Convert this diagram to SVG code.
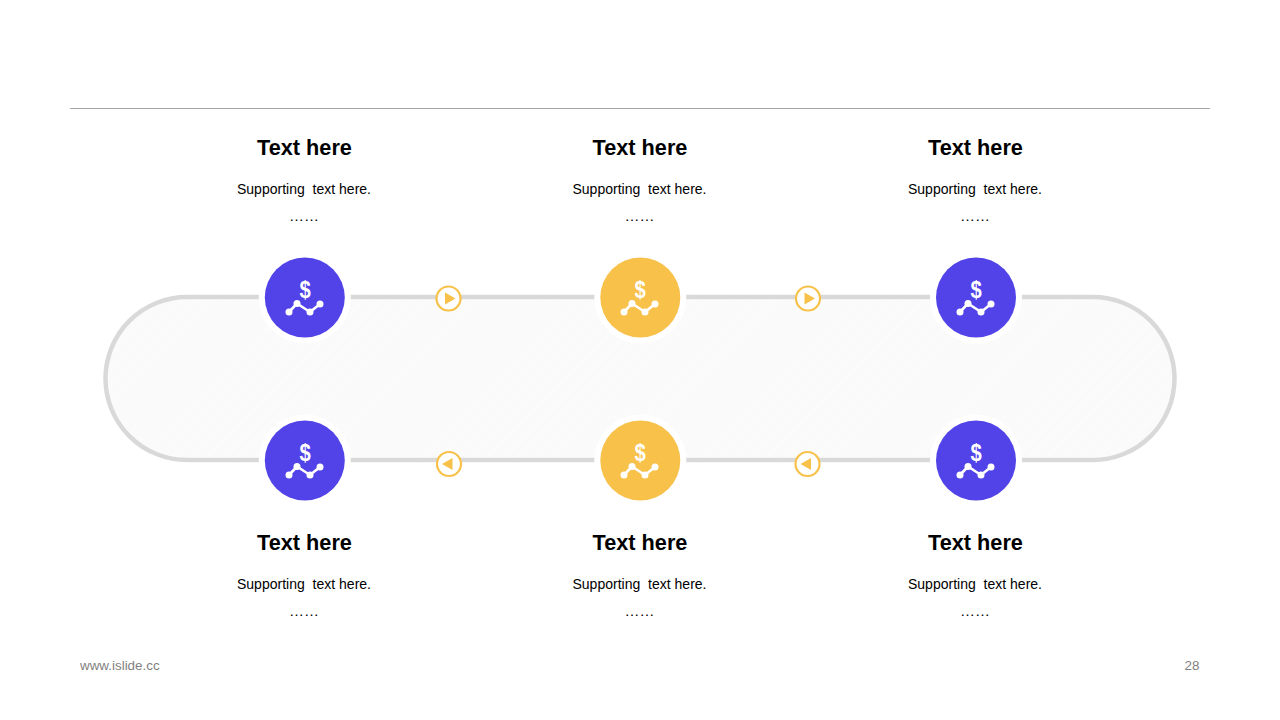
<svg xmlns="http://www.w3.org/2000/svg" xmlns:xlink="http://www.w3.org/1999/xlink" width="1280" height="720" viewBox="0 0 1280 720">
<style>
text{font-family:"Liberation Sans",Arial,sans-serif;text-anchor:middle}
.t{font-size:21.700px;font-weight:700;fill:#000}
.s{font-size:14px;fill:#000}
.d{font-size:15px;fill:#000}
.f{font-size:13.400px;fill:#7f7f7f}
.ring{fill:#fff}
.blue{fill:#5143e8}
.gold{fill:#f7c14a}
.ic{fill:#fff}
.icl{fill:none;stroke:#fff;stroke-width:2.600;stroke-linejoin:round}
.dl{font-size:23px;font-weight:700;fill:#fff}
.arc{fill:#fff;stroke:#f7c14a;stroke-width:2.200}
.tri{fill:#f7c14a}
</style>
<defs>
<pattern id="hatch" width="2" height="2" patternUnits="userSpaceOnUse" patternTransform="rotate(45)">
<rect width="2" height="2" fill="#fefefe"/>
<rect width="1" height="2" fill="#f7f7f7"/>
</pattern>
<g id="icon">
<text class="dl" x="0" y="-0.500" transform="scale(0.88,1)">$</text>
<polyline class="icl" points="-16,14 -8,5.500 5,14 15,6"/>
<circle class="ic" cx="-16" cy="14" r="3.500"/>
<circle class="ic" cx="-8" cy="5.500" r="3.500"/>
<circle class="ic" cx="5" cy="14" r="3.500"/>
<circle class="ic" cx="15" cy="6" r="3.500"/>
</g>
</defs>
<rect width="1280" height="720" fill="#fff"/>
<line x1="70" y1="108.500" x2="1210" y2="108.500" stroke="#a6a6a6" stroke-width="1"/>
<g id="connectors">
<rect x="105.500" y="297" width="1069" height="163" rx="81.500" ry="81.500" fill="url(#hatch)" stroke="#d9d9d9" stroke-width="4.500"/>
</g>
<g id="node-1"><circle class="ring" cx="304.800" cy="297.500" r="46"/><circle class="blue" cx="304.800" cy="297.500" r="40"/><use xlink:href="#icon" href="#icon" x="305" y="298"/></g>
<g id="node-2"><circle class="ring" cx="640.300" cy="297.500" r="46"/><circle class="gold" cx="640.300" cy="297.500" r="40"/><use xlink:href="#icon" href="#icon" x="640" y="298"/></g>
<g id="node-3"><circle class="ring" cx="976" cy="297.500" r="46"/><circle class="blue" cx="976" cy="297.500" r="40"/><use xlink:href="#icon" href="#icon" x="976" y="298"/></g>
<g id="node-4"><circle class="ring" cx="304.800" cy="460.500" r="46"/><circle class="blue" cx="304.800" cy="460.500" r="40"/><use xlink:href="#icon" href="#icon" x="305" y="461"/></g>
<g id="node-5"><circle class="ring" cx="640.300" cy="460.500" r="46"/><circle class="gold" cx="640.300" cy="460.500" r="40"/><use xlink:href="#icon" href="#icon" x="640" y="461"/></g>
<g id="node-6"><circle class="ring" cx="976" cy="460.500" r="46"/><circle class="blue" cx="976" cy="460.500" r="40"/><use xlink:href="#icon" href="#icon" x="976" y="461"/></g>
<g id="arrow-1"><circle class="arc" cx="448.500" cy="298.500" r="12"/><polygon class="tri" points="445,292.500 455.500,298.500 445,304.500"/></g>
<g id="arrow-2"><circle class="arc" cx="808" cy="298.500" r="12"/><polygon class="tri" points="804.500,292.500 815,298.500 804.500,304.500"/></g>
<g id="arrow-3"><circle class="arc" cx="449" cy="464" r="12"/><polygon class="tri" points="452.500,458 442,464 452.500,470"/></g>
<g id="arrow-4"><circle class="arc" cx="807.500" cy="464" r="12"/><polygon class="tri" points="811,458 800.500,464 811,470"/></g>
<g id="labels">
<text class="t" x="304.500" y="155">Text here</text><text class="s" x="304" y="194">Supporting <tspan dx="4">text here.</tspan></text><text class="d" x="304" y="221">……</text>
<text class="t" x="640" y="155">Text here</text><text class="s" x="639.500" y="194">Supporting <tspan dx="4">text here.</tspan></text><text class="d" x="639.500" y="221">……</text>
<text class="t" x="975.500" y="155">Text here</text><text class="s" x="975" y="194">Supporting <tspan dx="4">text here.</tspan></text><text class="d" x="975" y="221">……</text>
<text class="t" x="304.500" y="550">Text here</text><text class="s" x="304" y="589">Supporting <tspan dx="4">text here.</tspan></text><text class="d" x="304" y="616">……</text>
<text class="t" x="640" y="550">Text here</text><text class="s" x="639.500" y="589">Supporting <tspan dx="4">text here.</tspan></text><text class="d" x="639.500" y="616">……</text>
<text class="t" x="975.500" y="550">Text here</text><text class="s" x="975" y="589">Supporting <tspan dx="4">text here.</tspan></text><text class="d" x="975" y="616">……</text>
</g>
<text class="f" x="80" y="670" style="text-anchor:start">www.islide.cc</text>
<text class="f" x="1199.500" y="670" style="text-anchor:end">28</text>
</svg>
